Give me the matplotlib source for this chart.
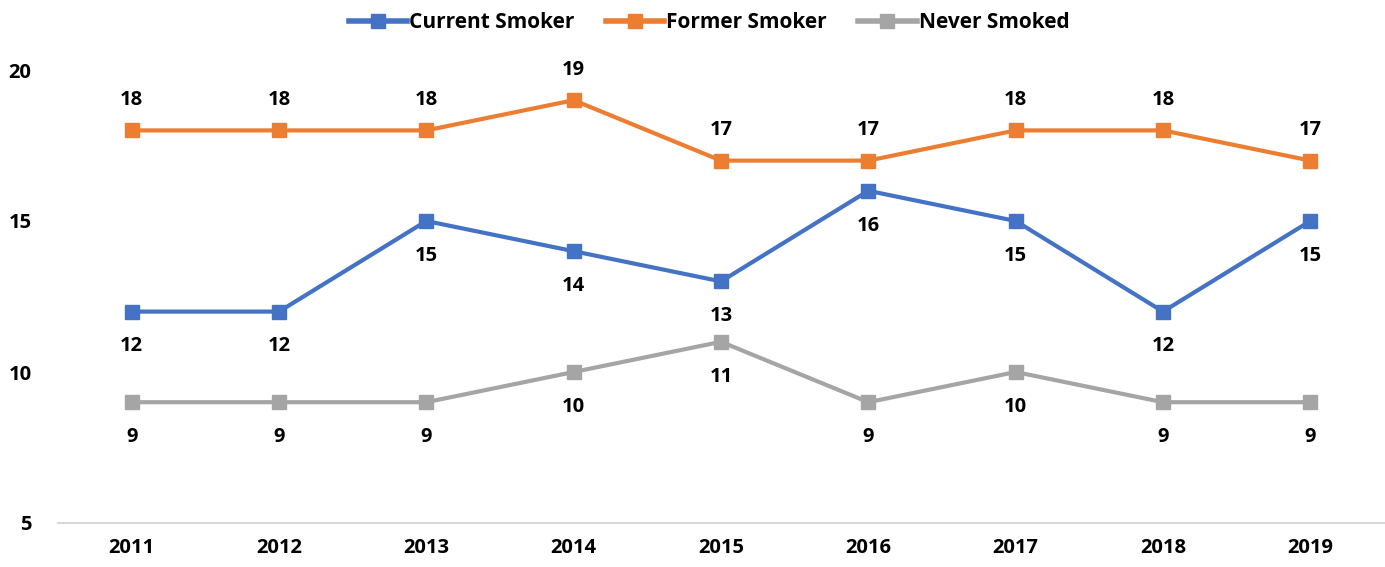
import matplotlib
matplotlib.use("Agg")
import matplotlib.pyplot as plt

years = ["2011", "2012", "2013", "2014", "2015", "2016", "2017", "2018", "2019"]
current = [12, 12, 15, 14, 13, 16, 15, 12, 15]
former = [18, 18, 18, 19, 17, 17, 18, 18, 17]
never = [9, 9, 9, 10, 11, 9, 10, 9, 9]
yticks = [5, 10, 15, 20]

plt.rcParams['font.family'] = ['Open Sans', 'DejaVu Sans']
plt.rcParams['font.weight'] = 'bold'

fig = plt.figure(figsize=(13.85, 5.67), dpi=100)
ax = fig.add_axes([58/1385, 1-523/567, 1326/1385, (523-70)/567])

FS = 14.5
x = list(range(len(years)))
series = [
    ("Current Smoker", current, "#4472C4", -1),
    ("Former Smoker", former, "#ED7D31", 1),
    ("Never Smoked", never, "#A5A5A5", -1),
]
for name, vals, col, pos in series:
    ax.plot(x, vals, color=col, lw=3, marker='s', ms=9.5, label=name)
    for xi, v in zip(x, vals):
        off = 22 if pos > 0 else -25
        ax.annotate(str(v), (xi, v), xytext=(0, off), textcoords='offset points',
                    ha='center', va='center', fontsize=FS, fontweight='bold', color='black')

ax.set_xlim(-0.5, len(years) - 0.5)
ax.set_ylim(5, 20)
ax.set_yticks(yticks)
ax.set_yticklabels([str(t) for t in yticks], fontsize=FS, fontweight='bold')
ax.set_xticks(x)
ax.set_xticklabels(years, fontsize=FS, fontweight='bold')
ax.tick_params(axis='both', length=0)
ax.tick_params(axis='y', pad=19)
ax.tick_params(axis='x', pad=11)
for s in ['top', 'right', 'left']:
    ax.spines[s].set_visible(False)
ax.spines['bottom'].set_color('#D9D9D9')
ax.spines['bottom'].set_linewidth(1.5)

leg = fig.legend(loc='upper center', bbox_to_anchor=(0.512, 1.012), ncol=3, frameon=False,
                 fontsize=15, handlelength=2.8, columnspacing=1.5, handletextpad=0.1)
for t in leg.get_texts():
    t.set_fontweight('bold')
for h in leg.legend_handles:
    h.set_linewidth(4)

fig.savefig("out.png", dpi=100)
